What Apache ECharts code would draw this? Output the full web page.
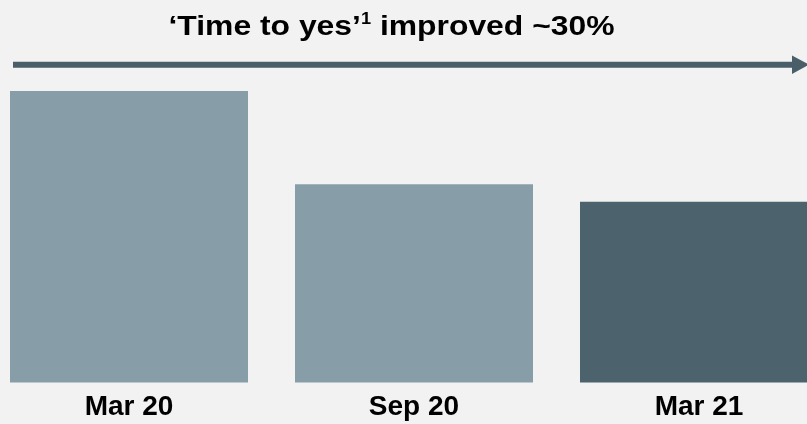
<!DOCTYPE html>
<html>
<head>
<meta charset="utf-8">
<script src="https://cdn.jsdelivr.net/npm/echarts@6/dist/echarts.min.js"></script>
<style>
html,body{margin:0;padding:0;background:#f2f2f2;}
#chart{width:807px;height:424px;}
</style>
</head>
<body>
<div id="chart"></div>
<script>
const categories = ['Mar 20', 'Sep 20', 'Mar 21'];
const values = [100, 68, 62];
const barColors = ['#879ea9', '#879ea9', '#4c626d'];
const titleMain = '\u2018Time to yes\u2019';
const titleSup = '1';
const titleRest = ' improved ~30%';

const chart = echarts.init(document.getElementById('chart'), null, {renderer: 'canvas'});
const font = '"Liberation Sans", Arial, Helvetica, sans-serif';
chart.setOption({
  backgroundColor: '#f2f2f2',
  animation: false,
  grid: {left: -13.5, width: 855, top: 91, bottom: 41.5, containLabel: false, outerBoundsMode: 'none'},
  xAxis: {
    type: 'category',
    data: categories,
    axisLine: {show: false},
    axisTick: {show: false},
    axisLabel: {
      color: '#000', fontFamily: font, fontWeight: 'bold', fontSize: 28,
      margin: 11, interval: 0
    }
  },
  yAxis: {
    type: 'value', min: 0, max: 100, show: false,
    splitLine: {show: false}
  },
  series: [{
    type: 'bar',
    barWidth: 238,
    data: values.map((v, i) => ({value: v, itemStyle: {color: barColors[i]}})),
    silent: true
  }],
  graphic: [
    {
      type: 'text',
      x: 391.5, y: 27,
      scaleX: 1.138, originX: 0, originY: 0,
      style: {
        text: '{a|' + titleMain + '}{s|' + titleSup + '}{a|' + titleRest + '}',
        align: 'center', verticalAlign: 'middle',
        rich: {
          a: {fontFamily: font, fontWeight: 'bold', fontSize: 28, fill: '#000', color: '#000'},
          s: {fontFamily: font, fontWeight: 'bold', fontSize: 16, fill: '#000', color: '#000', padding: [0, 0, 14, 0]}
        }
      }
    },
    {
      type: 'line',
      shape: {x1: 13, y1: 64.7, x2: 794, y2: 64.7},
      style: {stroke: '#4a5e69', lineWidth: 6}
    },
    {
      type: 'polygon',
      shape: {points: [[792, 55.5], [809, 64.7], [792, 74]]},
      style: {fill: '#4a5e69'}
    }
  ]
});
</script>
</body>
</html>
